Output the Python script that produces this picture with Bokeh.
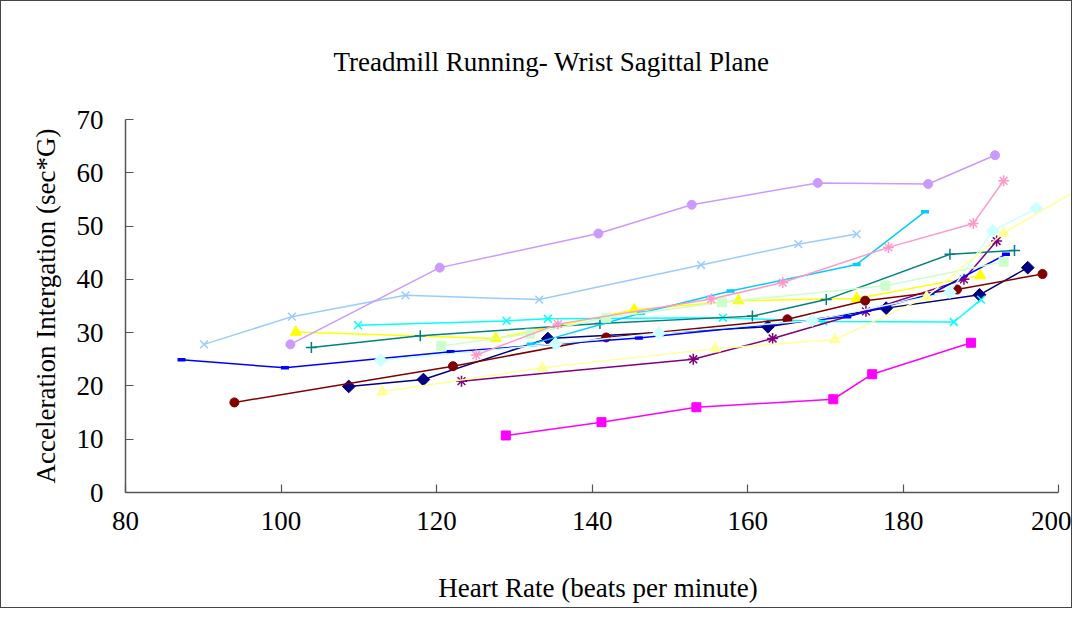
import math
from bokeh.plotting import figure
from bokeh.models import Range1d, FixedTicker, Title
from bokeh.embed import file_html
from bokeh.resources import INLINE

# ---- data ----
navy_x = [108.7, 118.3, 134.3, 162.6, 177.8, 189.8, 196.0]
navy_y = [19.9, 21.2, 28.9, 31.1, 34.6, 37.1, 42.2]

magenta_x = [128.9, 141.2, 153.4, 171.0, 176.0, 188.7]
magenta_y = [10.7, 13.2, 16.0, 17.5, 22.2, 28.1]

yellow_x = [101.9, 127.6, 145.4, 158.8, 174.0, 189.9]
yellow_y = [30.1, 28.9, 34.3, 36.0, 36.4, 40.7]

cyan_x = [109.9, 129.0, 134.3, 156.8, 169.7, 186.5, 190.0]
cyan_y = [31.4, 32.2, 32.6, 32.8, 32.1, 32.0, 36.2]

purple_x = [123.2, 153.0, 163.2, 175.2, 187.8, 192.0]
purple_y = [20.9, 25.0, 28.9, 34.0, 40.0, 47.2]

darkred_x = [94.0, 122.1, 141.8, 165.1, 175.1, 186.9, 197.9]
darkred_y = [16.9, 23.7, 29.1, 32.5, 36.0, 38.1, 41.0]

teal_x = [103.9, 117.9, 141.0, 160.6, 170.1, 186.0, 194.3]
teal_y = [27.2, 29.4, 31.7, 33.1, 36.2, 44.7, 45.4]

blue_x = [87.2, 100.5, 121.8, 146.0, 172.8, 183.5, 193.2]
blue_y = [24.9, 23.4, 26.4, 29.0, 33.0, 37.2, 44.7]

skyblue_x = [132.1, 146.3, 157.8, 174.0, 182.8]
skyblue_y = [27.8, 33.7, 37.8, 42.8, 52.7]

turq_x = [112.8, 135.3, 148.6, 168.3, 186.0, 191.5, 197.1]
turq_y = [24.8, 27.9, 29.9, 32.3, 37.6, 49.1, 53.3]

lgreen_x = [120.6, 132.0, 141.8, 156.7, 177.7, 192.9]
lgreen_y = [27.5, 29.8, 32.8, 35.7, 38.8, 43.3]

lyellow_x = [113.0, 133.6, 155.8, 171.2, 183.0, 192.9, 205.0]
lyellow_y = [18.9, 23.4, 27.0, 28.7, 36.7, 48.7, 59.0]

paleblue_x = [90.1, 101.4, 116.0, 133.2, 154.0, 166.5, 174.0]
paleblue_y = [27.8, 33.0, 37.0, 36.2, 42.7, 46.6, 48.5]

rose_x = [125.1, 135.6, 155.3, 164.5, 178.1, 189.0, 192.9]
rose_y = [25.8, 31.6, 36.3, 39.4, 46.0, 50.5, 58.5]

lavender_x = [101.2, 120.4, 140.8, 152.8, 169.0, 183.2, 191.8]
lavender_y = [27.8, 42.2, 48.6, 54.0, 58.1, 57.9, 63.3]

x_ticks = [80, 100, 120, 140, 160, 180, 200]
y_ticks = [0, 10, 20, 30, 40, 50, 60, 70]

series = [
    (navy_x, navy_y, "#000080", "diamond", 9),
    (magenta_x, magenta_y, "#FF00FF", "square", 9),
    (yellow_x, yellow_y, "#FFFF00", "triangle", 11),
    (cyan_x, cyan_y, "#00FFFF", "x", 11),
    (purple_x, purple_y, "#800080", "asterisk", 11),
    (darkred_x, darkred_y, "#800000", "circle", 9),
    (teal_x, teal_y, "#008080", "cross", 11),
    (blue_x, blue_y, "#0000FF", "dash", 8),
    (skyblue_x, skyblue_y, "#00CCFF", "dash", 8),
    (turq_x, turq_y, "#CCFFFF", "diamond", 9),
    (lgreen_x, lgreen_y, "#CCFFCC", "square", 9),
    (lyellow_x, lyellow_y, "#FFFF99", "triangle", 11),
    (paleblue_x, paleblue_y, "#99CCFF", "x", 11),
    (rose_x, rose_y, "#FF99CC", "asterisk", 11),
    (lavender_x, lavender_y, "#CC99FF", "circle", 9),
]

FONT = "Liberation Serif"

p = figure(width=1072, height=608, output_backend="svg", toolbar_location=None,
           x_range=Range1d(80, 201.5), y_range=Range1d(0, 70),
           min_border_left=124, min_border_right=3,
           min_border_top=118, min_border_bottom=117)
p.outline_line_color = None
p.xgrid.visible = False
p.ygrid.visible = False
p.styles = {"border": "1px solid #444444", "box-sizing": "border-box"}

t = Title(text="Treadmill Running- Wrist Sagittal Plane", align="left",
          text_font=FONT, text_font_size="27px", text_font_style="normal",
          text_color="#000000", offset=208, standoff=86)
p.add_layout(t, "above")

for xs, ys, col, mk, sz in series:
    p.line(xs, ys, line_color=col, line_width=1.5)
    if mk == "dash":
        p.scatter(xs, ys, marker="dash", size=sz, line_color=col, line_width=3.5)
    elif mk in ("x", "asterisk", "cross"):
        p.scatter(xs, ys, marker=mk, size=sz, line_color=col, line_width=1.5)
    elif mk == "diamond":
        p.scatter(xs, ys, marker="square", size=sz, angle=math.pi / 4,
                  fill_color=col, line_color=col)
    else:
        p.scatter(xs, ys, marker=mk, size=sz, fill_color=col, line_color=col)

for ax in (p.xaxis[0], p.yaxis[0]):
    ax.axis_line_color = "#555555"
    ax.axis_line_width = 1.5
    ax.major_tick_line_color = "#555555"
    ax.major_tick_line_width = 1.2
    ax.major_tick_in = 8
    ax.major_tick_out = 0
    ax.minor_tick_line_color = None
    ax.major_label_text_font = FONT
    ax.major_label_text_font_size = "27px"
    ax.major_label_text_color = "#000000"
    ax.axis_label_text_font = FONT
    ax.axis_label_text_font_size = "27px"
    ax.axis_label_text_font_style = "normal"
    ax.axis_label_text_color = "#000000"

p.xaxis.ticker = FixedTicker(ticks=x_ticks)
p.yaxis.ticker = FixedTicker(ticks=y_ticks)
p.xaxis.bounds = (80, 200)
p.yaxis.bounds = (0, 70)
p.xaxis.axis_label = "Heart Rate (beats per minute)"
p.yaxis.axis_label = "Acceleration Intergation (sec*G)"
p.xaxis.major_label_standoff = 19
p.xaxis.axis_label_standoff = 40
p.yaxis.major_label_standoff = 22
p.yaxis.axis_label_standoff = 13

open("out.html", "w").write(file_html(p, INLINE))
